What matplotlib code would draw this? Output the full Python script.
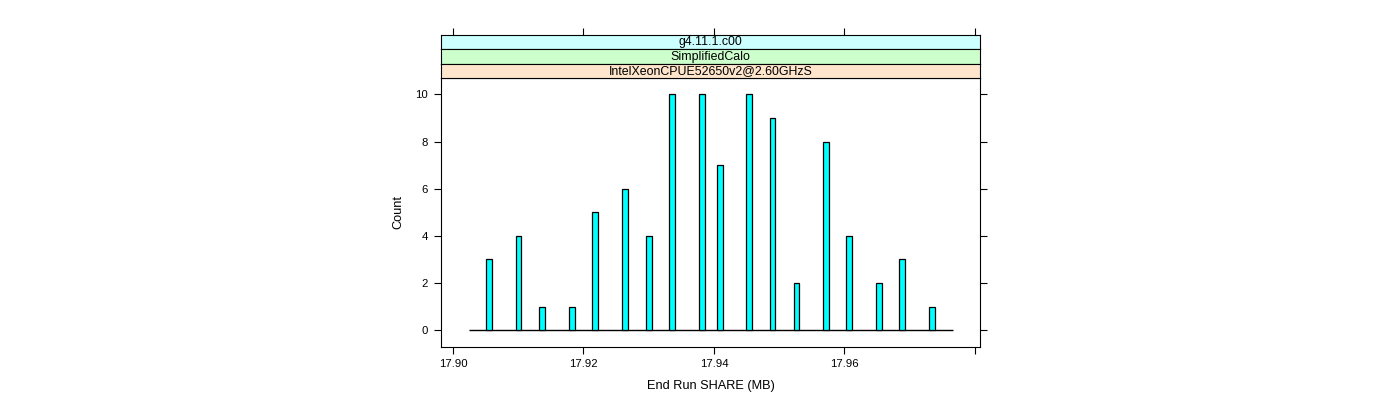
import numpy as np
import matplotlib
matplotlib.use("Agg")
import matplotlib.pyplot as plt

plt.rcParams["font.family"] = ["Liberation Sans", "DejaVu Sans"]

# histogram data (End Run SHARE, MB)
share_mb = [17.90554, 17.91005, 17.91368, 17.91823, 17.92183, 17.92634,
            17.93001, 17.93358, 17.93812, 17.94087, 17.94535, 17.94898,
            17.95265, 17.95713, 17.96076, 17.96530, 17.96886, 17.97345]
counts = [3, 4, 1, 1, 5, 6, 4, 10, 10, 7, 10, 9, 2, 8, 4, 2, 3, 1]
hist_range = (17.9024, 17.9766)
n_bins = 82

strip_labels = ["g4.11.1.c00", "SimplifiedCalo", "IntelXeonCPUE52650v2@2.60GHzS"]
strip_colors = ["#ccffff", "#ccffcc", "#ffe5cc"]

xticks = [17.90, 17.92, 17.94, 17.96, 17.98]
xtick_labels = ["17.90", "17.92", "17.94", "17.96", ""]
yticks = [0, 2, 4, 6, 8, 10]

W, H = 1400, 400
fig = plt.figure(figsize=(14, 4), dpi=100)

def box(l, t, r, b):
    return [l / W, 1 - b / H, (r - l) / W, (b - t) / H]

xlim = (17.89812, 17.98083)
ylim = (-0.7, 10.7)

ax = fig.add_axes(box(440.7, 78, 980.3, 346.7))
bw = (hist_range[1] - hist_range[0]) / n_bins
ax.hlines(0, hist_range[0], hist_range[1], color="black", lw=1)
ax.bar(share_mb, counts, width=bw, color="#00ffff", edgecolor="black",
       linewidth=0.9, zorder=3)
ax.set_xlim(*xlim)
ax.set_ylim(*ylim)
ax.set_xticks(xticks)
ax.set_xticklabels(xtick_labels)
ax.set_yticks(yticks)
ax.tick_params(direction="out", length=5, labelsize=8.2, width=0.8,
               right=True, top=False, pad=4)
for s in ax.spines.values():
    s.set_linewidth(0.8)
ax.set_xlabel("End Run SHARE (MB)", fontsize=9.2, labelpad=8)
ax.set_ylabel("Count", fontsize=9.2, labelpad=8)

# strips, top to bottom
tops = [35, 49.3, 64, 78]
for i, (lab, col) in enumerate(zip(strip_labels, strip_colors)):
    sa = fig.add_axes(box(440.7, tops[i], 980.3, tops[i + 1]))
    sa.set_facecolor(col)
    sa.set_xlim(*xlim)
    sa.set_yticks([])
    if i == 0:
        sa.set_xticks(xticks)
        sa.tick_params(axis="x", direction="out", length=5, width=0.8,
                       top=True, bottom=False, labeltop=False,
                       labelbottom=False)
    else:
        sa.set_xticks([])
    for s in sa.spines.values():
        s.set_linewidth(0.8)
    sa.text(0.5, 0.5, lab, transform=sa.transAxes, ha="center", va="center",
            fontsize=8.9)

fig.savefig("out.png", dpi=100)
